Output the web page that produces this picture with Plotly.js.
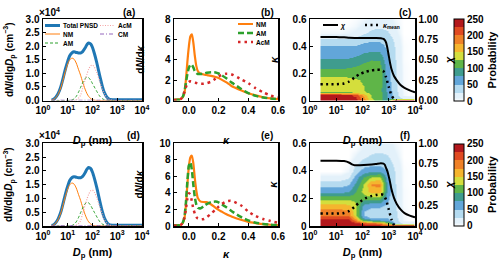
<!DOCTYPE html>
<html><head><meta charset="utf-8">
<script src="https://cdn.plot.ly/plotly-3.0.1.min.js"></script>
<style>html,body{margin:0;padding:0;background:#fff}#chart{width:500px;height:260px}</style>
</head><body><div id="chart"></div>
<script>
// ---------------- data ----------------
// Panels (a)/(d): particle number size distribution, values in 10^4 cm^-3
const Dp = [2.2, 2.5, 3, 4, 5, 6, 8, 10, 12, 15, 18, 22, 27, 33, 40, 50, 60, 70, 85, 100, 120, 150, 200, 250, 300, 400, 500, 700, 1000, 2000, 5000, 10000];
const totalPNSD = [0.02, 0.03, 0.08, 0.24, 0.45, 0.7, 1.15, 1.45, 1.65, 1.76, 1.79, 1.77, 1.75, 1.75, 1.8, 1.93, 2.06, 2.12, 2.08, 1.95, 1.72, 1.38, 0.88, 0.52, 0.3, 0.1, 0.04, 0.03, 0.03, 0.03, 0.03, 0.03];
const nmPNSD = [0.01, 0.03, 0.07, 0.22, 0.42, 0.65, 1.07, 1.35, 1.5, 1.56, 1.52, 1.38, 1.15, 0.93, 0.68, 0.42, 0.25, 0.15, 0.07, 0.03, 0.01, 0, 0, 0, 0, 0, 0, 0, 0, 0, 0, 0];
const amPNSD = [0, 0, 0, 0, 0, 0, 0, 0, 0.005, 0.02, 0.06, 0.15, 0.3, 0.48, 0.65, 0.81, 0.86, 0.84, 0.74, 0.62, 0.49, 0.33, 0.15, 0.07, 0.03, 0.01, 0, 0, 0, 0, 0, 0];
const acmPNSD = [0, 0, 0, 0, 0, 0, 0, 0, 0, 0, 0, 0.02, 0.08, 0.2, 0.45, 0.75, 0.98, 1.15, 1.28, 1.3, 1.22, 1.02, 0.68, 0.42, 0.25, 0.08, 0.03, 0.005, 0, 0, 0, 0];
const cmPNSD = [0.01, 0.01, 0.01, 0.01, 0.01, 0.01, 0.01, 0.01, 0.01, 0.01, 0.01, 0.01, 0.01, 0.01, 0.01, 0.01, 0.01, 0.01, 0.01, 0.01, 0.01, 0.01, 0.01, 0.01, 0.01, 0.01, 0.01, 0.01, 0.01, 0.01, 0.01, 0.01];

// Panels (b)/(e): dN/dkappa
const kappa = [-0.1, -0.08, -0.06, -0.05, -0.04, -0.03, -0.02, -0.01, 0, 0.01, 0.02, 0.03, 0.04, 0.05, 0.06, 0.08, 0.1, 0.12, 0.15, 0.18, 0.2, 0.22, 0.25, 0.28, 0.3, 0.35, 0.4, 0.45, 0.5, 0.55, 0.6];
const nmKappaB = [0.1, 0.1, 0.12, 0.2, 0.35, 0.7, 2.0, 3.8, 5.3, 6.3, 6.5, 5.7, 4.4, 3.4, 2.9, 2.62, 2.55, 2.5, 2.42, 2.3, 2.2, 2.05, 1.8, 1.5, 1.32, 1.0, 0.72, 0.5, 0.32, 0.2, 0.13];
const amKappaB = [0.05, 0.07, 0.1, 0.2, 0.4, 0.9, 1.7, 2.6, 3.2, 3.5, 3.5, 3.25, 2.9, 2.7, 2.6, 2.6, 2.65, 2.72, 2.78, 2.75, 2.65, 2.5, 2.2, 1.85, 1.65, 1.15, 0.72, 0.45, 0.3, 0.2, 0.14];
const acmKappaB = [0.02, 0.04, 0.08, 0.2, 0.45, 0.85, 1.3, 1.65, 1.82, 1.88, 1.85, 1.8, 1.76, 1.72, 1.68, 1.65, 1.65, 1.7, 1.85, 2.15, 2.35, 2.5, 2.62, 2.6, 2.5, 2.1, 1.7, 1.2, 0.8, 0.48, 0.3];
const nmKappaE = [0.1, 0.1, 0.12, 0.2, 0.4, 0.9, 2.5, 5.0, 7.2, 8.3, 8.5, 7.6, 5.8, 4.3, 3.4, 2.95, 2.9, 2.88, 2.6, 2.2, 1.95, 1.75, 1.45, 1.2, 1.05, 0.75, 0.5, 0.35, 0.22, 0.15, 0.1];
const amKappaE = [0.05, 0.07, 0.1, 0.2, 0.45, 1.1, 2.8, 5.4, 7.3, 7.7, 6.8, 5.0, 3.5, 2.6, 2.2, 2.15, 2.4, 2.65, 2.9, 2.95, 2.85, 2.65, 2.3, 1.9, 1.65, 1.1, 0.68, 0.4, 0.25, 0.15, 0.1];
const acmKappaE = [0.02, 0.04, 0.08, 0.2, 0.45, 1.0, 2.0, 3.3, 3.95, 3.8, 3.0, 2.1, 1.5, 1.1, 0.9, 0.8, 0.85, 1.05, 1.5, 2.0, 2.35, 2.65, 2.95, 3.05, 2.95, 2.5, 1.75, 1.2, 0.85, 0.6, 0.4];

// Panels (c)/(f): probability of kappa vs lg(Dp); rows = kappa, cols = lg(Dp/nm)
const lgDpGrid = [0.55, 0.85, 1.15, 1.45, 1.75, 2.05, 2.35, 2.65, 2.95, 3.25, 3.55, 3.85];
const kappaGrid = [0.005, 0.02, 0.04, 0.06, 0.08, 0.11, 0.15, 0.2, 0.25, 0.3, 0.35, 0.4, 0.45, 0.5, 0.55, 0.6];
const probC = [
  [245,245,245,245,235,190,130,110,80,240,240,240],
  [245,245,245,240,230,180,125,110,75,40,20,20],
  [240,240,240,235,215,165,120,110,72,35,5,0],
  [120,120,120,122,128,128,118,110,70,32,5,0],
  [132,132,132,130,128,125,118,110,68,30,4,0],
  [142,142,142,140,133,125,118,112,65,30,4,0],
  [135,135,134,132,128,122,118,115,62,28,3,0],
  [115,115,115,115,115,115,118,118,60,28,3,0],
  [95,95,95,98,102,108,112,112,58,26,3,0],
  [78,78,78,80,85,95,100,98,55,25,2,0],
  [60,60,60,62,66,75,80,78,50,24,2,0],
  [50,50,50,50,52,58,60,58,45,22,2,0],
  [25,25,25,28,32,40,45,45,38,18,1,0],
  [5,5,5,8,12,22,30,32,28,12,0,0],
  [0,0,0,2,5,12,20,22,20,8,0,0],
  [0,0,0,0,2,6,12,15,14,5,0,0]
];
const probF = [
  [245,245,245,245,240,235,230,225,200,240,240,240],
  [245,245,245,245,235,215,205,195,140,40,20,20],
  [238,238,238,235,190,110,85,75,60,35,5,0],
  [215,215,215,210,150,60,45,45,45,30,5,0],
  [195,195,195,190,135,50,40,40,42,28,4,0],
  [185,185,185,180,130,50,40,40,42,28,4,0],
  [158,158,158,155,130,70,55,55,45,26,3,0],
  [115,115,115,115,118,110,112,112,55,26,3,0],
  [65,65,65,72,98,135,160,165,65,26,3,0],
  [40,40,40,48,80,125,178,182,65,25,2,0],
  [12,12,12,22,60,100,125,130,58,24,2,0],
  [0,0,0,6,38,62,70,72,48,22,2,0],
  [0,0,0,2,22,40,45,45,38,18,1,0],
  [0,0,0,0,10,22,30,32,28,12,0,0],
  [0,0,0,0,3,12,20,22,20,8,0,0],
  [0,0,0,0,0,6,12,15,14,5,0,0]
];
// chi and kappa_mean vs lg(Dp)
const lgDpChiC = [0.4, 0.7, 1.0, 1.3, 1.5, 1.7, 1.9, 2.2, 2.5, 2.7, 2.8, 2.85, 2.9, 2.95, 3.0, 3.05, 3.1, 3.2, 3.3, 3.45, 3.6, 3.8, 4.0];
const chiC = [0.78, 0.78, 0.78, 0.775, 0.77, 0.768, 0.768, 0.768, 0.768, 0.765, 0.755, 0.74, 0.71, 0.64, 0.55, 0.46, 0.39, 0.3, 0.25, 0.19, 0.155, 0.125, 0.1];
const lgDpKmC = [0.4, 0.7, 1.0, 1.3, 1.5, 1.7, 1.9, 2.1, 2.3, 2.5, 2.7, 2.8, 2.9, 3.0, 3.1, 3.2, 3.3];
const kmeanC = [0.12, 0.12, 0.12, 0.125, 0.14, 0.17, 0.195, 0.21, 0.22, 0.225, 0.225, 0.215, 0.17, 0.1, 0.04, 0.01, 0.0];
const lgDpChiF = [0.4, 0.7, 1.0, 1.3, 1.5, 1.6, 1.7, 1.9, 2.2, 2.5, 2.7, 2.8, 2.85, 2.9, 2.95, 3.0, 3.05, 3.1, 3.2, 3.3, 3.45, 3.6, 3.8, 4.0];
const chiF = [0.79, 0.79, 0.79, 0.785, 0.765, 0.745, 0.735, 0.735, 0.74, 0.75, 0.76, 0.755, 0.74, 0.7, 0.66, 0.6, 0.53, 0.45, 0.34, 0.27, 0.2, 0.155, 0.125, 0.105];
const lgDpKmF = [0.4, 0.7, 1.0, 1.3, 1.5, 1.7, 1.9, 2.1, 2.3, 2.5, 2.7, 2.8, 2.9, 3.0, 3.1, 3.2];
const kmeanF = [0.09, 0.09, 0.09, 0.095, 0.11, 0.14, 0.175, 0.2, 0.215, 0.225, 0.23, 0.225, 0.19, 0.12, 0.05, 0.005];

const logTickVals = [1, 10, 100, 1000, 10000];
const lgTickVals = [0, 1, 2, 3, 4];
const decadeLabels = ['10<sup>0</sup>', '10<sup>1</sup>', '10<sup>2</sup>', '10<sup>3</sup>', '10<sup>4</sup>'];
const probColors = ['#e3f1fa', '#b5dbf0', '#62a6d9', '#3f9c8e', '#5fb548', '#d4de3c', '#f5b52e', '#ef8127', '#e04a21', '#b3181c'];

// ---------------- styling ----------------
const F = 'Liberation Sans, Arial, sans-serif';
const K = '#000';
const W = 500, H = 260;
const colorscale = [[0, '#ffffff'], [0.04, probColors[0]], [0.1, probColors[0]]];
probColors.forEach((c, i) => { if (i > 0) { colorscale.push([i / 10, c]); colorscale.push([(i + 1) / 10, c]); } });

function ax(extra) {
  return Object.assign({showline: true, linecolor: K, linewidth: 1.5, mirror: true, ticks: 'inside', ticklen: 3,
    tickwidth: 1, tickcolor: K, zeroline: false, showgrid: false, fixedrange: true,
    tickfont: {family: F, size: 10, color: K, weight: 'bold'}}, extra);
}
function ttl(text, size) { return {text: text, font: {family: F, size: size || 11, color: K, weight: 'bold'}}; }
function lg(xp, yp, size) {
  return {x: xp / W, y: 1 - yp / H, xanchor: 'left', yanchor: 'middle', bgcolor: 'rgba(0,0,0,0)', borderwidth: 0,
    font: {family: F, size: size || 6.5, color: K, weight: 'bold'}, tracegroupgap: 0};
}
const R1 = [1 - 100.5 / H, 1 - 19 / H], R2 = [1 - 226 / H, 1 - 143.3 / H];
const CA = [43 / W, 142 / W], CB = [174 / W, 278 / W], CC = [310 / W, 415 / W];
const dpTitle = '<i>D</i><sub>p</sub> (nm)';
const pnsdTitle = 'd<i>N</i>/dlg<i>D</i><sub>p</sub> (cm<sup>\u22123</sup>)';

const traces = [];
function pnsd(xa, ya, leg) {
  const s = [
    {y: totalPNSD, name: 'Total PNSD', line: {color: '#1f77b4', width: 3}, legend: 'legend'},
    {y: nmPNSD, name: 'NM', line: {color: '#ff7f0e', width: 1}, legend: 'legend2'},
    {y: amPNSD, name: 'AM', line: {color: '#2ca02c', width: 1, dash: '3px,2px'}, legend: 'legend3'},
    {y: acmPNSD, name: 'AcM', line: {color: '#f4a3a3', width: 1.2, dash: '1px,1.5px'}, legend: 'legend4'},
    {y: cmPNSD, name: 'CM', line: {color: '#9467bd', width: 1, dash: '4px,2px,1px,2px'}, legend: 'legend5'}
  ];
  s.forEach(t => traces.push({type: 'scatter', mode: 'lines', x: Dp, y: t.y, name: t.name, line: Object.assign({shape: 'spline', smoothing: 0.8}, t.line),
    xaxis: xa, yaxis: ya, showlegend: leg, legend: t.legend, hoverinfo: 'skip'}));
}
function kap(xa, ya, nm, am, acm, leg) {
  traces.push({type: 'scatter', mode: 'lines', x: kappa, y: nm, name: 'NM', line: {color: '#ff7f0e', width: 2.2, shape: 'spline', smoothing: 0.6}, xaxis: xa, yaxis: ya, showlegend: leg, legend: 'legend6', hoverinfo: 'skip'});
  traces.push({type: 'scatter', mode: 'lines', x: kappa, y: am, name: 'AM', line: {color: '#2ca02c', width: 2.5, dash: '6px,3px', shape: 'spline', smoothing: 0.6}, xaxis: xa, yaxis: ya, showlegend: leg, legend: 'legend7', hoverinfo: 'skip'});
  traces.push({type: 'scatter', mode: 'lines', x: kappa, y: acm, name: 'AcM', line: {color: '#d62728', width: 2.5, dash: '2.5px,4px', shape: 'spline', smoothing: 0.6}, xaxis: xa, yaxis: ya, showlegend: leg, legend: 'legend8', hoverinfo: 'skip'});
}
function heat(xa, ya, ya2, z, xChi, chi, xKm, km, ycen, leg) {
  traces.push({type: 'heatmap', x: lgDpGrid, y: kappaGrid, z: z, xaxis: xa, yaxis: ya, zmin: 0, zmax: 250, zsmooth: 'best',
    colorscale: colorscale, hoverinfo: 'skip', showscale: true,
    colorbar: {x: 454 / W, xanchor: 'left', xpad: 0, ypad: 0, y: 1 - ycen / H, yanchor: 'middle', len: 82 / H, lenmode: 'fraction',
      thickness: 10, thicknessmode: 'pixels', outlinewidth: 1, outlinecolor: K, tickvals: [0, 50, 100, 150, 200, 250],
      tickfont: {family: F, size: 10, color: K, weight: 'bold'},
      title: {text: 'Probability', side: 'right', font: {family: F, size: 11, color: K, weight: 'bold'}}}});
  traces.push({type: 'scatter', mode: 'lines', x: xKm, y: km, name: '<i>\u03ba</i><sub>mean</sub>', line: {color: K, width: 2.5, dash: '2px,3.5px', shape: 'spline', smoothing: 0.6},
    xaxis: xa, yaxis: ya, showlegend: leg, legend: 'legend10', hoverinfo: 'skip'});
  traces.push({type: 'scatter', mode: 'lines', x: xChi, y: chi, name: '<i>\u03c7</i>', line: {color: K, width: 2, shape: 'spline', smoothing: 0.6},
    xaxis: xa, yaxis: ya2, showlegend: leg, legend: 'legend9', hoverinfo: 'skip'});
}
pnsd('x', 'y', true);
kap('x2', 'y2', nmKappaB, amKappaB, acmKappaB, true);
heat('x3', 'y3', 'y4', probC, lgDpChiC, chiC, lgDpKmC, kmeanC, 60, true);
pnsd('x4', 'y5', false);
kap('x5', 'y6', nmKappaE, amKappaE, acmKappaE, false);
heat('x6', 'y7', 'y8', probF, lgDpChiF, chiF, lgDpKmF, kmeanF, 184.6, false);

function ann(text, xp, yp, anchor) {
  return {text: text, xref: 'paper', yref: 'paper', x: xp / W, y: 1 - yp / H, xanchor: anchor || 'center', yanchor: 'middle',
    showarrow: false, font: {family: F, size: 10, color: K, weight: 'bold'}};
}

const layout = {
  width: W, height: H, margin: {l: 0, r: 0, t: 0, b: 0, autoexpand: false},
  paper_bgcolor: '#fff', plot_bgcolor: 'rgba(0,0,0,0)', showlegend: true,
  font: {family: F, color: K},
  xaxis: ax({domain: CA, anchor: 'y', type: 'log', range: [0, 4], tickvals: logTickVals, ticktext: decadeLabels, title: ttl(dpTitle)}),
  yaxis: ax({domain: R1, anchor: 'x', range: [0, 3], dtick: 0.5, tickformat: '.1f', title: ttl(pnsdTitle, 10)}),
  xaxis2: ax({domain: CB, anchor: 'y2', range: [-0.1, 0.6], tickvals: [0, 0.2, 0.4, 0.6], tickformat: '.1f', title: ttl('<i>\u03ba</i>')}),
  yaxis2: ax({domain: R1, anchor: 'x2', range: [0, 8], dtick: 2, title: ttl('d<i>N</i>/d<i>\u03ba</i>', 10)}),
  xaxis3: ax({domain: CC, anchor: 'y3', range: [0, 4], tickvals: lgTickVals, ticktext: decadeLabels, title: ttl(dpTitle)}),
  yaxis3: ax({domain: R1, anchor: 'x3', range: [0, 0.6], dtick: 0.2, title: ttl('<i>\u03ba</i>')}),
  yaxis4: ax({overlaying: 'y3', anchor: 'x3', side: 'right', mirror: false, range: [0, 1], dtick: 0.25, tickformat: '.2f', title: ttl('<i>\u03c7</i>')}),
  xaxis4: ax({domain: CA, anchor: 'y5', type: 'log', range: [0, 4], tickvals: logTickVals, ticktext: decadeLabels, title: ttl(dpTitle)}),
  yaxis5: ax({domain: R2, anchor: 'x4', range: [0, 3], dtick: 0.5, tickformat: '.1f', title: ttl(pnsdTitle, 10)}),
  xaxis5: ax({domain: CB, anchor: 'y6', range: [-0.1, 0.6], tickvals: [0, 0.2, 0.4, 0.6], tickformat: '.1f', title: ttl('<i>\u03ba</i>')}),
  yaxis6: ax({domain: R2, anchor: 'x5', range: [0, 10], dtick: 2, title: ttl('d<i>N</i>/d<i>\u03ba</i>', 10)}),
  xaxis6: ax({domain: CC, anchor: 'y7', range: [0, 4], tickvals: lgTickVals, ticktext: decadeLabels, title: ttl(dpTitle)}),
  yaxis7: ax({domain: R2, anchor: 'x6', range: [0, 0.6], dtick: 0.2, title: ttl('<i>\u03ba</i>')}),
  yaxis8: ax({overlaying: 'y7', anchor: 'x6', side: 'right', mirror: false, range: [0, 1], dtick: 0.25, tickformat: '.2f', title: ttl('<i>\u03c7</i>')}),
  legend: lg(45, 25.5), legend2: lg(45, 34), legend3: lg(45, 43), legend4: lg(100, 25.5), legend5: lg(100, 34),
  legend6: lg(238, 24), legend7: lg(238, 33), legend8: lg(238, 42),
  legend9: lg(323, 25, 7), legend10: lg(365, 25, 7),
  annotations: [
    ann('\u00d710<sup>4</sup>', 37, 12, 'left'), ann('\u00d710<sup>4</sup>', 37, 135, 'left'),
    ann('(a)', 129, 12), ann('(b)', 267, 12), ann('(c)', 405, 12),
    ann('(d)', 133, 135), ann('(e)', 267, 135), ann('(f)', 405, 135)
  ]
};

const gd = document.getElementById('chart');
// compact legend keys: shorter line samples, text closer to the sample (each legend's text class is "<legendId>text")
function tightenLegends() {
  gd.querySelectorAll('g.traces').forEach(function (g) {
    const t = g.querySelector(':scope > text');
    if (!t) return;
    g.querySelectorAll('.legendlines path').forEach(function (p) {
      if (p.getAttribute('d') !== 'M0,0h15') p.setAttribute('d', 'M0,0h15');
    });
    if (t.getAttribute('x') !== '18') t.setAttribute('x', '18');
  });
}
const mo = new MutationObserver(tightenLegends);
mo.observe(gd, {childList: true, subtree: true, attributes: true, attributeFilter: ['x', 'd']});
Plotly.newPlot(gd, traces, layout, {staticPlot: true, displayModeBar: false}).then(function () {
  tightenLegends();
  [0, 30, 100, 300].forEach(function (ms) { setTimeout(tightenLegends, ms); });
});
</script>
</body></html>
